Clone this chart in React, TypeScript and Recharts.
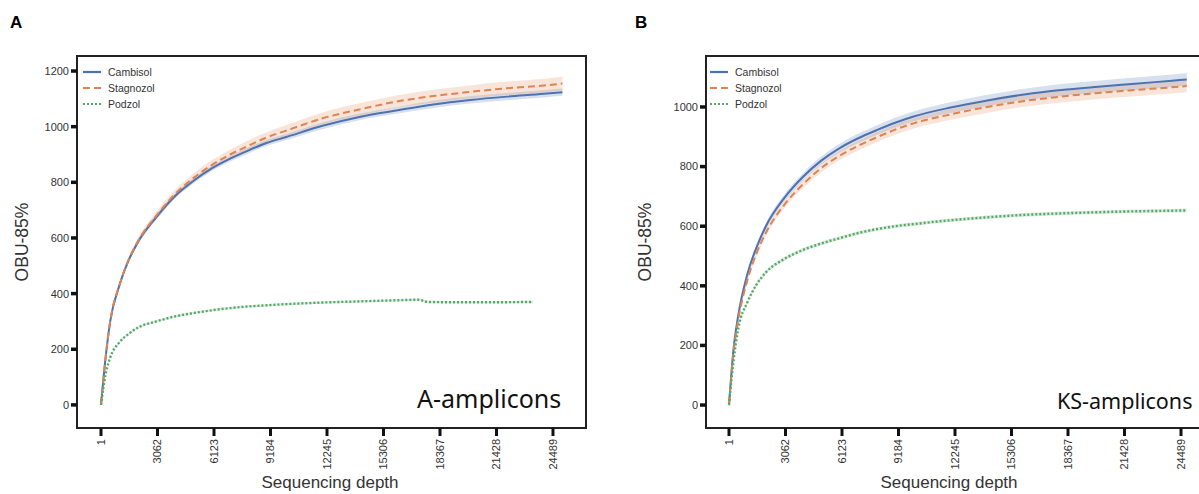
import React from 'react';
import { ComposedChart, Line, Area, XAxis, YAxis, ReferenceArea } from 'recharts';

// ---------- data ----------
const xTicks = [1, 3062, 6123, 9184, 12245, 15306, 18367, 21428, 24489];
const yTicksA = [0, 200, 400, 600, 800, 1000, 1200];
const yTicksB = [0, 200, 400, 600, 800, 1000];

const depthsA = [1, 250, 500, 1000, 1500, 2000, 3000, 4000, 5000, 6000, 7000, 8000, 9000, 10000, 12000, 14000, 16000, 18000, 20000, 22000, 24000, 25000];
const cambisolA = [0, 170, 300, 430, 520, 585, 675, 750, 805, 850, 885, 915, 942, 962, 1003, 1035, 1058, 1080, 1096, 1108, 1118, 1124];
const cambisolSpreadA = [0, 4, 5, 6, 7, 8, 9, 9, 10, 10, 10, 11, 11, 11, 12, 12, 12, 13, 13, 13, 13, 13];
const stagnozolA = [0, 170, 300, 430, 522, 588, 680, 757, 815, 862, 900, 932, 962, 985, 1030, 1062, 1090, 1110, 1125, 1138, 1148, 1155];
const stagnozolSpreadA = [0, 5, 7, 10, 11, 12, 14, 15, 16, 17, 18, 19, 19, 20, 21, 22, 22, 23, 23, 24, 24, 24];
const podzolDepthsA = [1, 250, 500, 1000, 1500, 2000, 3000, 4000, 5000, 6000, 7000, 8000, 9000, 10000, 12000, 14000, 16000, 17200, 17700, 19000, 21000, 23400];
const podzolA = [0, 110, 170, 225, 255, 278, 300, 318, 330, 340, 348, 354, 358, 362, 368, 372, 376, 378, 370, 369, 369, 370];
const podzolSpreadA = [0, 3, 3, 4, 4, 4, 4, 4, 4, 4, 4, 4, 4, 4, 4, 4, 4, 4, 4, 4, 4, 4];

const depthsB = [1, 250, 500, 1000, 1500, 2000, 3000, 4000, 5000, 6000, 7000, 8000, 9000, 10000, 12000, 14000, 16000, 18000, 20000, 22000, 24000, 24800];
const cambisolB = [0, 190, 300, 440, 530, 600, 695, 765, 820, 862, 895, 922, 947, 968, 998, 1022, 1042, 1057, 1068, 1078, 1088, 1092];
const cambisolSpreadB = [0, 5, 7, 9, 10, 11, 12, 13, 14, 15, 16, 16, 17, 17, 18, 19, 19, 20, 20, 21, 21, 21];
const stagnozolB = [0, 180, 285, 420, 510, 578, 672, 740, 795, 837, 870, 898, 924, 945, 975, 1000, 1020, 1035, 1047, 1057, 1066, 1070];
const stagnozolSpreadB = [0, 5, 7, 9, 10, 11, 12, 13, 14, 15, 16, 16, 17, 17, 18, 19, 19, 20, 20, 21, 21, 21];
const podzolB = [0, 150, 255, 345, 405, 445, 490, 520, 542, 560, 577, 590, 600, 607, 620, 630, 638, 643, 647, 650, 652, 653];
const podzolSpreadB = [0, 4, 5, 5, 6, 6, 6, 6, 6, 6, 6, 6, 6, 6, 6, 6, 6, 6, 6, 6, 6, 6];

const seriesNames = ['Cambisol', 'Stagnozol', 'Podzol'];

// ---------- styles ----------
const COLORS = { Cambisol: '#4c72b0', Stagnozol: '#dd8452', Podzol: '#55a868' };
const DASH: Record<string, string | undefined> = { Cambisol: undefined, Stagnozol: '7 4', Podzol: '2 2' };
const FONT = '"Liberation Sans", Arial, sans-serif';

type Pt = { depth: number; v: number; band: [number, number] };
const build = (d: number[], v: number[], s: number[]): Pt[] =>
  d.map((x, i) => ({ depth: x, v: v[i], band: [v[i] - s[i], v[i] + s[i]] }));

const XTick = (props: any) => {
  const { x, y, payload } = props;
  return (
    <g transform={`translate(${x},${y})`}>
      <text transform="rotate(-90)" textAnchor="end" dy="0.35em" fontSize={11} fill="#333" fontFamily={FONT}>
        {payload.value}
      </text>
    </g>
  );
};

type PanelProps = {
  left: number;
  width: number;
  yAxisWidth: number;
  marginRight: number;
  xDomain: [number, number];
  yDomain: [number, number];
  yTicks: number[];
  series: { name: string; data: Pt[] }[];
};

const Panel = ({ left, width, yAxisWidth, marginRight, xDomain, yDomain, yTicks, series }: PanelProps) => (
  <div style={{ position: 'absolute', left, top: 0 }}>
    <ComposedChart width={width} height={494} margin={{ top: 56, right: marginRight, bottom: 0, left: 0 }}>
      <XAxis
        dataKey="depth"
        type="number"
        domain={xDomain}
        allowDataOverflow
        ticks={xTicks}
        interval={0}
        height={66}
        axisLine={false}
        tickSize={8}
        tickMargin={3}
        tickLine={{ stroke: '#111', strokeWidth: 3 }}
        tick={<XTick />}
      />
      <YAxis
        type="number"
        domain={yDomain}
        allowDataOverflow
        ticks={yTicks}
        interval={0}
        width={yAxisWidth}
        axisLine={false}
        tickSize={6}
        tickMargin={2}
        tickLine={{ stroke: '#111', strokeWidth: 3.5 }}
        tick={{ fontSize: 11, fill: '#333', fontFamily: FONT }}
      />
      <ReferenceArea x1={xDomain[0]} x2={xDomain[1]} y1={yDomain[0]} y2={yDomain[1]} fill="none" stroke="#222" strokeWidth={2} />
      {series.map((s) => (
        <Area
          key={s.name + '-band'}
          data={s.data}
          dataKey="band"
          type="monotone"
          stroke="none"
          fill={(COLORS as any)[s.name]}
          fillOpacity={0.22}
          isAnimationActive={false}
          activeDot={false}
          legendType="none"
        />
      ))}
      {series.map((s) => (
        <Line
          key={s.name}
          data={s.data}
          dataKey="v"
          name={s.name}
          type="monotone"
          stroke={(COLORS as any)[s.name]}
          strokeWidth={s.name === 'Podzol' ? 2.4 : 2}
          strokeDasharray={DASH[s.name]}
          dot={false}
          activeDot={false}
          isAnimationActive={false}
        />
      ))}
    </ComposedChart>
  </div>
);

const LegendBox = ({ left, top }: { left: number; top: number }) => (
  <div style={{ position: 'absolute', left, top, fontFamily: FONT, fontSize: 10.5, color: '#333' }}>
    {seriesNames.map((n) => (
      <div key={n} style={{ display: 'flex', alignItems: 'center', height: 16 }}>
        <svg width={20} height={8} style={{ marginRight: 6 }}>
          <line x1={1} y1={4} x2={19} y2={4} stroke={(COLORS as any)[n]} strokeWidth={2.2} strokeDasharray={DASH[n]} />
        </svg>
        <span>{n}</span>
      </div>
    ))}
  </div>
);

const Text = ({ style, children }: { style: React.CSSProperties; children: React.ReactNode }) => (
  <div style={{ position: 'absolute', whiteSpace: 'nowrap', fontFamily: FONT, color: '#333', ...style }}>{children}</div>
);

export default function App() {
  const seriesA = [
    { name: 'Cambisol', data: build(depthsA, cambisolA, cambisolSpreadA) },
    { name: 'Stagnozol', data: build(depthsA, stagnozolA, stagnozolSpreadA) },
    { name: 'Podzol', data: build(podzolDepthsA, podzolA, podzolSpreadA) },
  ];
  const seriesB = [
    { name: 'Cambisol', data: build(depthsB, cambisolB, cambisolSpreadB) },
    { name: 'Stagnozol', data: build(depthsB, stagnozolB, stagnozolSpreadB) },
    { name: 'Podzol', data: build(depthsB, podzolB, podzolSpreadB) },
  ];
  return (
    <div style={{ position: 'absolute', left: 0, top: 0, width: 1199, height: 494, overflow: 'hidden', background: '#fff' }}>
      <Panel left={0} width={600} yAxisWidth={77} marginRight={14} xDomain={[-1299, 26277]} yDomain={[-83, 1254]} yTicks={yTicksA} series={seriesA} />
      <Panel left={600} width={605} yAxisWidth={106} marginRight={0} xDomain={[-1245, 25789]} yDomain={[-77, 1171]} yTicks={yTicksB} series={seriesB} />

      <LegendBox left={82} top={64} />
      <LegendBox left={709} top={64} />

      <Text style={{ left: 10, top: 13, fontSize: 17, fontWeight: 'bold', color: '#000' }}>A</Text>
      <Text style={{ left: 635, top: 13, fontSize: 17, fontWeight: 'bold', color: '#000' }}>B</Text>

      <Text style={{ left: 22, top: 242, fontSize: 17.5, transform: 'translate(-50%,-50%) rotate(-90deg)' }}>OBU-85%</Text>
      <Text style={{ left: 645, top: 242, fontSize: 17.5, transform: 'translate(-50%,-50%) rotate(-90deg)' }}>OBU-85%</Text>

      <Text style={{ left: 330, top: 483, fontSize: 17, transform: 'translate(-50%,-50%)' }}>Sequencing depth</Text>
      <Text style={{ left: 949, top: 483, fontSize: 17, transform: 'translate(-50%,-50%)' }}>Sequencing depth</Text>

      <Text style={{ left: 417, top: 381, fontSize: 25, fontFamily: '"Noto Sans", sans-serif', color: '#111' }}>A-amplicons</Text>
      <Text style={{ left: 1057, top: 386, fontSize: 21.5, fontFamily: '"Noto Sans", sans-serif', color: '#111' }}>KS-amplicons</Text>
    </div>
  );
}
